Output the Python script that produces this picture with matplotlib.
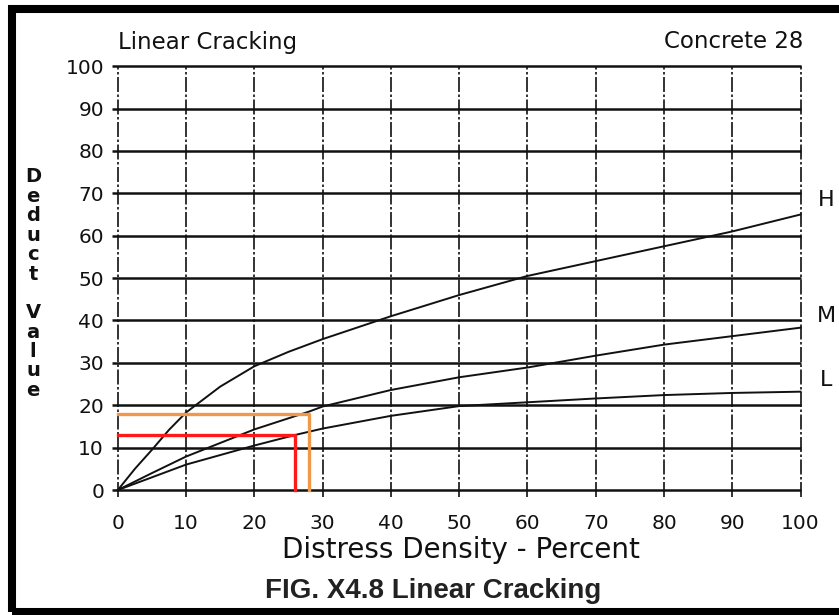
import matplotlib.pyplot as plt
from matplotlib.patches import Rectangle

# values
density_h = [0, 2.5, 5, 7.5, 10, 15, 20, 25, 30, 40, 50, 60, 70, 80, 90, 100]
deduct_h = [0, 5, 9.5, 14.2, 18.3, 24.4, 29.2, 32.6, 35.6, 41, 46, 50.5, 54, 57.5, 61, 65]

density_m = [0, 5, 10, 20, 28, 30, 40, 50, 60, 70, 80, 90, 100]
deduct_m = [0, 4, 7.9, 14.3, 18.5, 19.7, 23.6, 26.6, 28.9, 31.7, 34.3, 36.3, 38.3]

density_l = [0, 10, 20, 26, 30, 40, 50, 60, 70, 80, 90, 100]
deduct_l = [0, 6, 10.5, 13, 14.5, 17.5, 19.8, 20.7, 21.6, 22.4, 22.9, 23.2]

grid_ticks = [0, 10, 20, 30, 40, 50, 60, 70, 80, 90, 100]
curve_names = ['H', 'M', 'L']
name_pos = [68.4, 41, 26]

# example readings drawn in colour
orange_pt = (28, 18)
red_pt = (26, 13)

W, H = 839, 615
fig = plt.figure(figsize=(W / 100, H / 100), dpi=100)
ax = fig.add_axes([111 / W, 1 - 498.5 / H, (804 - 111) / W, (498.5 - 64) / H])
ax.set_xlim(-1, 100.5)
ax.set_ylim(-2, 100.5)
for s in ax.spines.values():
    s.set_visible(False)

ink = '#111111'
ax.hlines(grid_ticks, -0.8, 100, color=ink, lw=1.8, zorder=2)
ax.vlines(grid_ticks, -1.6, 100, color=ink, lw=1.2, linestyles=(0, (9, 1.5, 1.5, 1.5)), zorder=2)

ax.plot(density_h, deduct_h, color=ink, lw=1.4, zorder=3)
ax.plot(density_m, deduct_m, color=ink, lw=1.4, zorder=3)
ax.plot(density_l, deduct_l, color=ink, lw=1.4, zorder=3)

for name, yv in zip(curve_names, name_pos):
    ax.text(103.8, yv, name, fontsize=16, ha='center', va='center', color=ink, clip_on=False)

ax.plot([0, orange_pt[0], orange_pt[0]], [orange_pt[1], orange_pt[1], 0], color='#f0984a', lw=2.4, zorder=4)
ax.plot([0, red_pt[0], red_pt[0]], [red_pt[1], red_pt[1], 0], color='#ff1a1a', lw=2.4, zorder=4)

ax.set_xticks(grid_ticks)
ax.set_yticks(grid_ticks)
ax.tick_params(length=0, labelsize=14.5, colors=ink)
ax.tick_params(axis='x', pad=11)
ax.tick_params(axis='y', pad=5)

fig.text(118 / W, 1 - 49 / H, 'Linear Cracking', fontsize=16.5, ha='left', va='baseline', color=ink)
fig.text(803 / W, 1 - 48 / H, 'Concrete 28', fontsize=16.5, ha='right', va='baseline', color=ink)
fig.text(461 / W, 1 - 558 / H, 'Distress Density - Percent', fontsize=20, ha='center', va='baseline', color=ink)
fig.text(433 / W, 1 - 598 / H, 'FIG. X4.8 Linear Cracking', fontsize=20, fontweight='bold',
         family='Liberation Sans', ha='center', va='baseline', color='#222222')

step = 19.4
for i, ch in enumerate('Deduct'):
    fig.text(33 / W, 1 - (177 + i * step) / H, ch, fontsize=14, fontweight='bold', ha='center', va='center', color=ink)
for i, ch in enumerate('Value'):
    fig.text(33 / W, 1 - (177 + (i + 7) * step) / H, ch, fontsize=14, fontweight='bold', ha='center', va='center', color=ink)

# scan frame (left, top, bottom black bars)
fig.patches.append(Rectangle((12 / W, 1 - 612 / H), 2, (612 - 9) / H, transform=fig.transFigure,
                             fill=False, edgecolor='black', lw=5.8))

fig.savefig('out.png', dpi=100)
